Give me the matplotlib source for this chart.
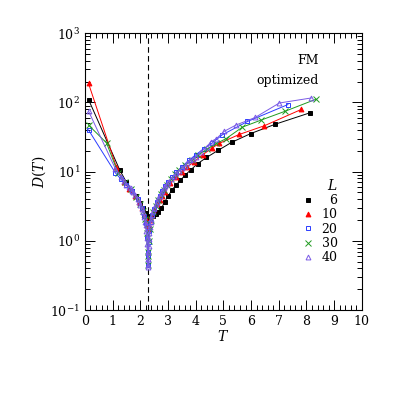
import matplotlib
matplotlib.use("Agg")
import matplotlib.pyplot as plt
from matplotlib.ticker import LogLocator, MultipleLocator, NullFormatter

plt.rcParams['font.family'] = ['DejaVu Serif']
plt.rcParams['mathtext.fontset'] = 'dejavuserif'

# Temperatura krytyczna (linia przerywana)
Tc = 2.269

# L = 6
T6 = [0.13, 1.26, 1.5, 1.7, 1.85, 2.0, 2.1, 2.2, 2.25, 2.3, 2.35, 2.45, 2.55, 2.65,
      2.76, 2.88, 3.0, 3.14, 3.29, 3.45, 3.62, 3.83, 4.08, 4.39, 4.82, 5.3, 5.99, 6.88, 8.12]
D6 = [110, 10.5, 7.0, 5.3, 4.4, 3.5, 3.0, 2.5, 2.3, 2.2, 2.2, 2.3, 2.45, 2.65,
      2.94, 3.66, 4.4, 5.4, 6.4, 7.5, 8.9, 10.7, 13.1, 16.0, 20.4, 26.5, 35.5, 48.5, 70.6]

# L = 10
T10 = [0.13, 1.14, 1.4, 1.6, 1.8, 1.95, 2.05, 2.15, 2.2, 2.25, 2.27, 2.3, 2.35, 2.4,
       2.5, 2.6, 2.7, 2.8, 2.9, 3.08, 3.3, 3.51, 3.69, 3.95, 4.25, 4.6, 4.84, 5.57, 6.48, 7.81]
D10 = [188, 11.5, 7.2, 5.6, 4.4, 3.6, 3.0, 2.4, 2.1, 1.7, 1.5, 1.7, 2.0, 2.3,
       2.9, 3.4, 3.9, 4.5, 5.1, 6.8, 8.4, 9.9, 11.7, 14.0, 17.5, 22.0, 25.5, 34.4, 46.0, 79.0]

# L = 20
T20 = [0.13, 1.1, 1.3, 1.5, 1.7, 1.9, 2.05, 2.15, 2.2, 2.24, 2.26, 2.27, 2.28, 2.3,
       2.33, 2.37, 2.42, 2.5, 2.6, 2.7, 2.8, 2.9, 3.0, 3.15, 3.3, 3.5, 3.75, 4.0, 4.3,
       4.6, 4.96, 5.87, 7.33]
D20 = [40, 9.6, 7.8, 6.4, 5.2, 4.0, 3.0, 2.3, 1.8, 1.1, 0.7, 0.45, 0.6, 0.95,
       1.4, 1.9, 2.4, 2.9, 3.6, 4.4, 5.2, 6.1, 7.0, 8.3, 9.8, 11.8, 14.5, 17.5, 21.5,
       26.0, 34.0, 53.0, 93.0]

# L = 30
T30 = [0.13, 0.78, 1.2, 1.45, 1.65, 1.85, 2.0, 2.1, 2.18, 2.23, 2.26, 2.27, 2.29, 2.31,
       2.34, 2.38, 2.45, 2.55, 2.65, 2.75, 2.85, 2.95, 3.1, 3.25, 3.4, 3.6, 3.85, 4.1,
       4.4, 4.75, 5.1, 5.69, 6.36, 7.21, 8.34]
D30 = [47, 26, 9.5, 7.0, 5.6, 4.3, 3.4, 2.7, 2.1, 1.3, 0.7, 0.45, 0.6, 1.0,
       1.5, 2.0, 2.6, 3.2, 3.9, 4.7, 5.5, 6.4, 7.8, 9.2, 10.6, 12.4, 14.8, 17.5,
       21.0, 25.5, 30.0, 44.0, 55.5, 74.0, 111.0]

# L = 40
T40 = [0.13, 1.1, 1.3, 1.4, 1.5, 1.6, 1.65, 1.7, 1.75, 1.8, 1.9, 1.95, 2.0, 2.05,
       2.1, 2.15, 2.18, 2.2, 2.22, 2.24, 2.25, 2.26, 2.265, 2.27, 2.275, 2.28, 2.29,
       2.3, 2.31, 2.33, 2.35, 2.38, 2.4, 2.43, 2.46, 2.5, 2.55, 2.6, 2.65, 2.7, 2.75,
       2.8, 2.85, 2.9, 2.95, 3.0, 3.1, 3.2, 3.3, 3.4, 3.5, 3.6, 3.7, 3.8, 3.9, 4.0,
       4.2, 4.4, 4.54, 4.75, 5.02, 5.45, 6.15, 7.02, 8.18]
D40 = [75, 11.0, 8.5, 7.3, 6.5, 6.0, 5.8, 5.3, 5.0, 4.6, 4.0, 3.6, 3.3, 2.9,
       2.6, 2.2, 1.9, 1.7, 1.4, 1.1, 0.9, 0.7, 0.55, 0.42, 0.45, 0.55, 0.7,
       0.85, 1.05, 1.3, 1.6, 1.9, 2.1, 2.4, 2.7, 3.0, 3.4, 3.7, 4.1, 4.5, 4.9,
       5.3, 5.8, 6.3, 6.7, 7.0, 7.8, 8.6, 9.5, 10.3, 11.2, 12.2, 13.3, 14.5, 15.3, 16.5,
       19.5, 22.5, 27.0, 30.0, 38.0, 47.0, 60.6, 98.0, 116.0]

labels = ['  6', '10', '20', '30', '40']
colors = ['black', 'red', '#2a3cff', '#1f9a1f', '#7a5ae6']
markers = ['s', '^', 's', 'x', '^']
filled = [True, True, False, True, False]

series = [(T6, D6), (T10, D10), (T20, D20), (T30, D30), (T40, D40)]

fig = plt.figure(figsize=(3.95, 3.95), dpi=100)
ax = fig.add_axes([0.215, 0.215, 0.701, 0.701])

ax.axvline(Tc, color='black', ls=(0, (5, 3)), lw=0.8, zorder=1)

for (T, D), lab, c, m, f in zip(series, labels, colors, markers, filled):
    ax.plot(T, D, color=c, lw=0.7, marker=m, ms=3.5 if m != 'x' else 4.0,
            mfc=c if f else 'none', mec=c, mew=0.7, label=lab)

ax.set_yscale('log')
ax.set_xlim(0, 10)
ax.set_ylim(0.1, 1000)
ax.xaxis.set_major_locator(MultipleLocator(1))
ax.xaxis.set_minor_locator(MultipleLocator(0.2))
ax.yaxis.set_major_locator(LogLocator(base=10, numticks=10))
ax.yaxis.set_minor_locator(LogLocator(base=10, subs=range(2, 10), numticks=20))
ax.yaxis.set_minor_formatter(NullFormatter())
ax.tick_params(which='both', direction='in', top=True, right=True, labelsize=9, width=0.7)
ax.tick_params(which='major', length=7)
ax.tick_params(which='minor', length=3.5)
for s in ax.spines.values():
    s.set_linewidth(0.8)

ax.set_xlabel('$T$', fontsize=10, labelpad=1)
ax.set_ylabel('$D(T)$', fontsize=10, labelpad=2)

ax.text(0.845, 0.90, 'FM', transform=ax.transAxes, ha='right', va='center', fontsize=9)
ax.text(0.845, 0.83, 'optimized', transform=ax.transAxes, ha='right', va='center', fontsize=9)

leg = ax.legend(title='$L$', loc='upper left', bbox_to_anchor=(0.76, 0.50), frameon=False,
                fontsize=9, title_fontsize=10, handlelength=1.0, handletextpad=0.6,
                labelspacing=0.1, borderpad=0.0)
for h in leg.legend_handles:
    h.set_linestyle('None')
leg._legend_box.align = 'right'

fig.savefig('out.png', dpi=100)
